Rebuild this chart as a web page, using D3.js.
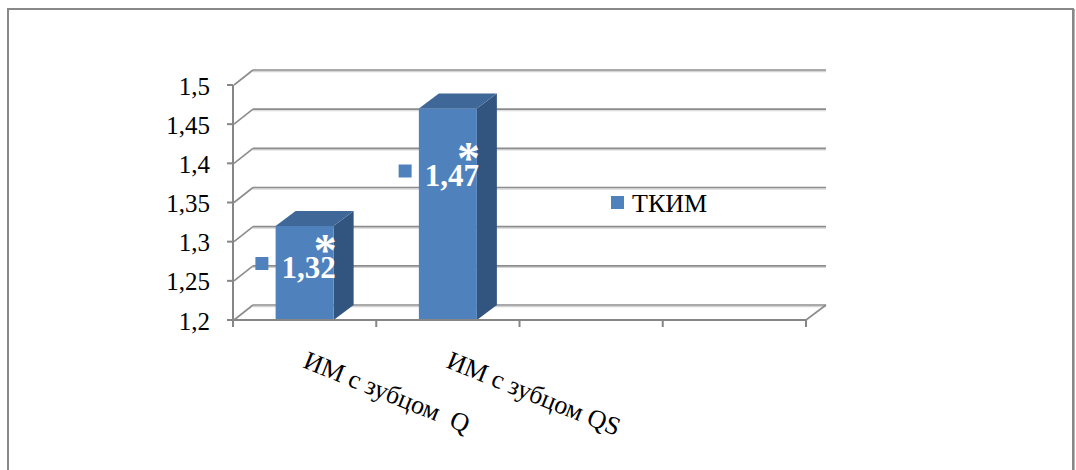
<!DOCTYPE html>
<html>
<head>
<meta charset="utf-8">
<script src="https://cdn.jsdelivr.net/npm/d3@7"></script>
<style>
  html, body { margin: 0; padding: 0; background: #fff; }
  svg { display: block; }
  text { font-family: "Liberation Serif", "Times New Roman", serif; white-space: pre; }
</style>
</head>
<body>
<svg id="chart" width="1076" height="470"></svg>
<script>
// Chart data
const categories = ["ИМ с зубцом  Q", "ИМ с зубцом QS", "", ""];
const values = [1.32, 1.47, null, null];
const valueLabels = ["1,32", "1,47", "", ""];
const markers = ["*", "*", "", ""];
const yTicks = [1.2, 1.25, 1.3, 1.35, 1.4, 1.45, 1.5];
const yTickLabels = ["1,2", "1,25", "1,3", "1,35", "1,4", "1,45", "1,5"];
const seriesName = "ТКИМ";

// Layout
const W = 1076, H = 470;
const plot = { left: 233, right: 806, top: 85, bottom: 320 };
const depth = { dx: 20, dy: -15 };
const labelDrop = [52, 77]; // label baseline below bar top
const colors = {
  front: "#4f81bd", top: "#3f6898", side: "#31557f",
  axis: "#868686", grid: "#8c8c8c", gridShade: "#d4d4d4"
};

const svg = d3.select("#chart");

// Outer frame
svg.append("rect")
  .attr("x", 8).attr("y", 9).attr("width", 1065).attr("height", 480)
  .attr("fill", "none").attr("stroke", "#888").attr("stroke-width", 2);
svg.append("line")
  .attr("x1", 1074.5).attr("x2", 1074.5).attr("y1", 9).attr("y2", H)
  .attr("stroke", "#b4b4b4").attr("stroke-width", 1);

const x = d3.scaleBand()
  .domain(d3.range(categories.length))
  .range([plot.left, plot.right])
  .paddingInner(0.595)
  .paddingOuter(0.2975);

const y = d3.scaleLinear()
  .domain([yTicks[0], yTicks[yTicks.length - 1]])
  .range([plot.bottom, plot.top]);

const step = x.step();
const axisStart = plot.left, axisEnd = plot.right;

// Back wall gridlines and side wall diagonals
const grid = svg.append("g");
yTicks.forEach(t => {
  const yy = y(t);
  const by = yy + depth.dy;
  grid.append("line")
    .attr("x1", axisStart + depth.dx).attr("x2", axisEnd + depth.dx)
    .attr("y1", by + 1.6).attr("y2", by + 1.6)
    .attr("stroke", colors.gridShade).attr("stroke-width", 1.2);
  grid.append("line")
    .attr("x1", axisStart + depth.dx).attr("x2", axisEnd + depth.dx)
    .attr("y1", by).attr("y2", by)
    .attr("stroke", colors.grid).attr("stroke-width", 1.6);
  grid.append("line")
    .attr("x1", axisStart + 1).attr("y1", yy)
    .attr("x2", axisStart + depth.dx).attr("y2", by)
    .attr("stroke", colors.grid).attr("stroke-width", 1.6);
});

// Floor right edge
svg.append("line")
  .attr("x1", axisEnd).attr("y1", y(yTicks[0]))
  .attr("x2", axisEnd + depth.dx).attr("y2", y(yTicks[0]) + depth.dy)
  .attr("stroke", colors.grid).attr("stroke-width", 1.6);

// Bars (front, top, side faces)
const bars = svg.append("g");
values.forEach((v, i) => {
  if (v == null) return;
  const x0 = x(i), x1 = x(i) + x.bandwidth();
  const yt = y(v), yb = y(yTicks[0]);
  bars.append("path")
    .attr("d", `M${x1},${yb} L${x1 + depth.dx},${yb + depth.dy} L${x1 + depth.dx},${yt + depth.dy} L${x1},${yt} Z`)
    .attr("fill", colors.side);
  bars.append("path")
    .attr("d", `M${x0},${yt} L${x0 + depth.dx},${yt + depth.dy} L${x1 + depth.dx},${yt + depth.dy} L${x1},${yt} Z`)
    .attr("fill", colors.top);
  bars.append("rect")
    .attr("x", x0).attr("y", yt).attr("width", x.bandwidth()).attr("height", yb - yt)
    .attr("fill", colors.front);
});

// Axes
const axes = svg.append("g").attr("stroke", colors.axis).attr("stroke-width", 2);
axes.append("line")
  .attr("x1", axisStart).attr("x2", axisStart)
  .attr("y1", y(yTicks[yTicks.length - 1])).attr("y2", y(yTicks[0]) + 1);
axes.append("line")
  .attr("x1", axisStart - 1).attr("x2", axisEnd)
  .attr("y1", y(yTicks[0])).attr("y2", y(yTicks[0]));
yTicks.forEach(t => {
  axes.append("line")
    .attr("x1", axisStart - 6).attr("x2", axisStart)
    .attr("y1", y(t)).attr("y2", y(t));
});
d3.range(categories.length + 1).forEach(i => {
  const xx = axisStart + i * step;
  axes.append("line")
    .attr("x1", xx).attr("x2", xx)
    .attr("y1", y(yTicks[0])).attr("y2", y(yTicks[0]) + 7);
});

// Y tick labels
svg.append("g").selectAll("text")
  .data(yTicks)
  .join("text")
  .attr("x", 210)
  .attr("y", d => y(d) + 9.5)
  .attr("text-anchor", "end")
  .attr("font-size", 25)
  .attr("fill", "#000")
  .text((d, i) => yTickLabels[i]);

// Category labels, rotated
svg.append("g").selectAll("text")
  .data(categories.map((c, i) => ({ c, i })).filter(d => d.c))
  .join("text")
  .attr("transform", d => `translate(${x(d.i) + x.bandwidth() / 2 - 3},367) rotate(22)`)
  .attr("font-size", 26)
  .attr("fill", "#000")
  .text(d => d.c);

// Data labels: two-line label (marker above value) with legend key
const labels = svg.append("g");
values.forEach((v, i) => {
  if (v == null) return;
  const xr = x(i) + x.bandwidth() + 2;
  const base = y(v) + labelDrop[i];
  const t = labels.append("text")
    .attr("text-anchor", "end")
    .attr("font-weight", "bold")
    .attr("fill", "#fff");
  t.append("tspan")
    .attr("x", xr + 1).attr("y", base - 12)
    .attr("font-size", 46)
    .text(markers[i]);
  const num = t.append("tspan")
    .attr("x", xr).attr("y", base)
    .attr("font-size", 31)
    .text(valueLabels[i]);
  const w = num.node().getComputedTextLength();
  labels.append("rect")
    .attr("x", xr - w - 26).attr("y", base - 21)
    .attr("width", 13).attr("height", 13)
    .attr("fill", colors.front);
});

// Legend
const legend = svg.append("g");
legend.append("rect")
  .attr("x", 611).attr("y", 196).attr("width", 13).attr("height", 13)
  .attr("fill", colors.front);
legend.append("text")
  .attr("x", 632).attr("y", 212)
  .attr("font-size", 26)
  .attr("fill", "#000")
  .text(seriesName);
</script>
</body>
</html>
